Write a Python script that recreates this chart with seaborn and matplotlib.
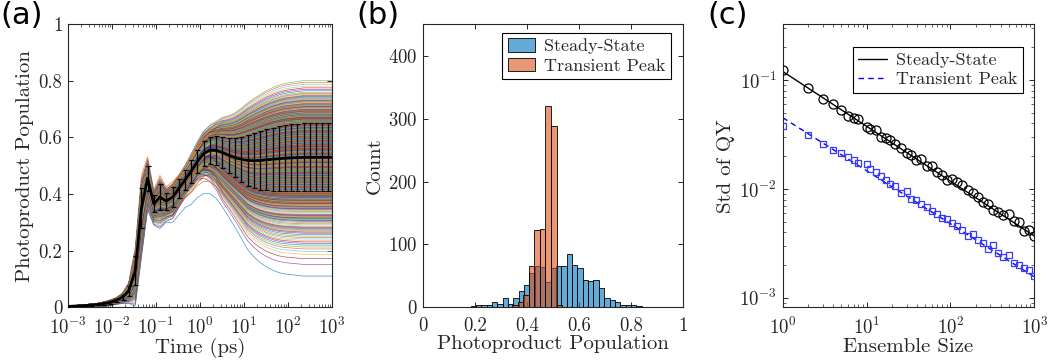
import numpy as np
import pandas as pd
import matplotlib
matplotlib.use("Agg")
import matplotlib.pyplot as plt
import seaborn as sns
from matplotlib.ticker import FixedLocator, FuncFormatter, LogLocator, NullFormatter

# ---------------- data ----------------
# (a) ensemble-averaged photoproduct population vs time (log10 of time in ps)
time_log = [-3.03, -2.89, -2.75, -2.61, -2.47, -2.32, -2.18, -2.04, -1.90, -1.76, -1.62,
            -1.47, -1.33, -1.19, -1.05, -0.91, -0.77, -0.62, -0.48, -0.34, -0.20, -0.06,
            0.08, 0.23, 0.37, 0.51, 0.65, 0.79, 0.94, 1.08, 1.22, 1.36, 1.50, 1.65,
            1.79, 1.93, 2.07, 2.21, 2.36, 2.50, 2.64, 2.78, 2.92, 3.00]
mean_pop = [0.003, 0.004, 0.005, 0.006, 0.008, 0.010, 0.013, 0.018, 0.025, 0.036, 0.058,
            0.13, 0.35, 0.456, 0.365, 0.39, 0.375, 0.39, 0.42, 0.45, 0.48, 0.515,
            0.543, 0.555, 0.554, 0.547, 0.537, 0.529, 0.523, 0.519, 0.518, 0.519, 0.521, 0.523,
            0.525, 0.527, 0.528, 0.529, 0.53, 0.53, 0.53, 0.53, 0.53, 0.53]
std_pop = [0.001, 0.001, 0.002, 0.002, 0.003, 0.003, 0.004, 0.005, 0.006, 0.009, 0.018,
           0.05, 0.07, 0.045, 0.03, 0.045, 0.03, 0.035, 0.035, 0.035, 0.04, 0.042,
           0.045, 0.047, 0.05, 0.055, 0.062, 0.07, 0.08, 0.09, 0.097, 0.103, 0.108, 0.112,
           0.115, 0.117, 0.118, 0.119, 0.12, 0.12, 0.12, 0.12, 0.12, 0.12]

# (b) histograms
ss_bin_start, ss_bin_width = 0.10, 0.02054
ss_counts = [1, 0, 1, 1, 2, 3, 4, 4, 8, 5, 15, 6, 15, 26, 35, 54, 65, 64, 41, 62, 65, 65,
             85, 68, 62, 44, 42, 43, 30, 15, 12, 8, 4, 3, 4, 2, 1]
tp_bin_start, tp_bin_width = 0.341, 0.0215
tp_counts = [4, 9, 20, 65, 123, 125, 320, 289, 4]

# (c) std of QY vs ensemble size
ens_size = [1, 2, 3, 4, 5, 6, 7, 8, 10, 11, 13, 15, 17, 19, 22, 26, 30, 34, 39, 45, 52, 60,
            69, 79, 91, 105, 121, 139, 160, 184, 212, 244, 281, 324, 373, 429, 494, 569,
            655, 754, 869, 1000]
std_ss = [0.1236, 0.0839, 0.0664, 0.0598, 0.0529, 0.047, 0.0448, 0.0438, 0.0373, 0.0355,
          0.0347, 0.0301, 0.0291, 0.0281, 0.0258, 0.0239, 0.0212, 0.0205, 0.0184, 0.0188,
          0.0163, 0.0162, 0.0144, 0.0134, 0.0121, 0.0123, 0.0115, 0.0108, 0.00975, 0.0091,
          0.00848, 0.00762, 0.00726, 0.0064, 0.00617, 0.00575, 0.00584, 0.00506, 0.00499,
          0.00412, 0.00418, 0.00368]
std_tp = [0.0378, 0.0312, 0.0258, 0.0227, 0.0216, 0.0197, 0.0184, 0.0174, 0.0169, 0.0154,
          0.0142, 0.0132, 0.0122, 0.0112, 0.0107, 0.0091, 0.0096, 0.0081, 0.0079, 0.0073,
          0.00677, 0.0063, 0.00587, 0.00547, 0.00527, 0.00488, 0.00457, 0.00418, 0.00371,
          0.00382, 0.00339, 0.00316, 0.00284, 0.00305, 0.00256, 0.00238, 0.00247, 0.00211,
          0.002, 0.00189, 0.0018, 0.00158]
fit_N = [1, 1000]
fit_ss = [0.120, 0.0037]
fit_tp = [0.0452, 0.00156]

# ---------------- style ----------------
sns.set_theme(style="ticks")
TXT = "#262626"
plt.rcParams.update({
    "font.family": ["cmr10", "DejaVu Serif"],
    "mathtext.fontset": "cm",
    "axes.formatter.use_mathtext": True,
    "axes.unicode_minus": False,
    "xtick.direction": "in", "ytick.direction": "in",
    "xtick.top": True, "ytick.right": True,
    "axes.edgecolor": TXT, "axes.linewidth": 0.8,
    "xtick.color": TXT, "ytick.color": TXT,
    "xtick.labelcolor": TXT, "ytick.labelcolor": TXT,
    "axes.labelcolor": TXT, "text.color": TXT,
    "xtick.labelsize": 13.5, "ytick.labelsize": 13.5, "axes.labelsize": 15,
    "xtick.major.size": 3.5, "ytick.major.size": 3.5,
    "xtick.minor.size": 2, "ytick.minor.size": 2,
    "xtick.major.width": 0.7, "ytick.major.width": 0.7,
    "xtick.minor.width": 0.5, "ytick.minor.width": 0.5,
    "xtick.major.pad": 7, "ytick.major.pad": 4,
})

fig = plt.figure(figsize=(10.49, 3.64), dpi=100)
bottom, height = 0.1558, 0.7775
axA = fig.add_axes([0.0648, bottom, 0.2517, height])
axB = fig.add_axes([0.4035, bottom, 0.2479, height])
axC = fig.add_axes([0.7461, bottom, 0.2399, height])

num_fmt = FuncFormatter(lambda v, p: f"{v:g}")

# ---------------- (a) ----------------
tl = np.array(time_log)
t = 10 ** tl
mu = np.array(mean_pop)
sd = np.array(std_pop)


def expand(start, width, counts):
    vals = []
    for k, c in enumerate(counts):
        for j in range(c):
            vals.append(start + width * (k + (j + 0.5) / c))
    return np.array(vals)


ss_vals = expand(ss_bin_start, ss_bin_width, ss_counts)
tp_vals = expand(tp_bin_start, tp_bin_width, tp_counts)
n = min(len(ss_vals), len(tp_vals))
ss_vals = ss_vals[:n]
perm = (np.arange(n) * 389) % n
tp_vals = tp_vals[perm]
ipk = int(np.argmax(mu[:20]))
z_late = (ss_vals - mu[-1]) / sd[-1]
z_early = (tp_vals - mu[ipk]) / sd[ipk]
w = np.clip((0.5 - tl) / 1.2, 0, 1)

mcol = ["#0072BD", "#D95319", "#EDB120", "#7E2F8E", "#77AC30", "#4DBEEE", "#A2142F"]
order = (np.arange(n) * 613) % n
for i in order:
    z = w * z_early[i] + (1 - w) * z_late[i]
    y = np.clip(mu + sd * z, 0, 1)
    axA.plot(t, y, color=mcol[(i * 3) % 7], lw=0.5, alpha=0.75, zorder=1)

axA.plot(t, mu, color="black", lw=2.0, zorder=3)
axA.errorbar(t[:-1], mu[:-1], yerr=sd[:-1], fmt="none", ecolor="black", elinewidth=0.9,
             capsize=1.8, capthick=0.9, zorder=4)
axA.set_xscale("log")
axA.set_xlim(1e-3, 1e3)
axA.set_ylim(0, 1)
axA.xaxis.set_major_locator(LogLocator(base=10, numticks=10))
axA.xaxis.set_minor_locator(LogLocator(base=10, subs=np.arange(2, 10), numticks=10))
axA.xaxis.set_minor_formatter(NullFormatter())
axA.yaxis.set_major_locator(FixedLocator([0, 0.2, 0.4, 0.6, 0.8, 1.0]))
axA.yaxis.set_major_formatter(num_fmt)
axA.set_xlabel("Time (ps)", labelpad=0)
axA.set_ylabel("Photoproduct Population", labelpad=3)

# ---------------- (b) ----------------
ss_edges = [ss_bin_start + ss_bin_width * k for k in range(len(ss_counts) + 1)]
tp_edges = [tp_bin_start + tp_bin_width * k for k in range(len(tp_counts) + 1)]
df_ss = pd.DataFrame({"x": [(ss_edges[k] + ss_edges[k + 1]) / 2 for k in range(len(ss_counts))],
                      "n": ss_counts})
df_tp = pd.DataFrame({"x": [(tp_edges[k] + tp_edges[k + 1]) / 2 for k in range(len(tp_counts))],
                      "n": tp_counts})
sns.histplot(data=df_ss, x="x", weights="n", bins=ss_edges, ax=axB, color="#0072BD",
             alpha=0.6, edgecolor="black", linewidth=0.6, label="Steady-State")
sns.histplot(data=df_tp, x="x", weights="n", bins=tp_edges, ax=axB, color="#D95319",
             alpha=0.6, edgecolor="black", linewidth=0.6, label="Transient Peak")
axB.set_xlim(0, 1)
axB.set_ylim(0, 450)
axB.xaxis.set_major_locator(FixedLocator([0, 0.2, 0.4, 0.6, 0.8, 1.0]))
axB.xaxis.set_major_formatter(num_fmt)
axB.yaxis.set_major_locator(FixedLocator([0, 100, 200, 300, 400]))
axB.set_xlabel("Photoproduct Population", labelpad=0)
axB.set_ylabel("Count", labelpad=3)
legB = axB.legend(loc="upper right", bbox_to_anchor=(0.9515, 0.969), borderaxespad=0,
                  fancybox=False, framealpha=1, edgecolor="black", fontsize=13,
                  handlelength=1.5, handleheight=0.75, borderpad=0.3, labelspacing=0.2,
                  handletextpad=0.5)
legB.get_frame().set_linewidth(0.8)

# ---------------- (c) ----------------
axC.plot(fit_N, fit_ss, color="black", lw=1.0, ls="-", label="Steady-State", zorder=2)
axC.plot(fit_N, fit_tp, color="#0000ff", lw=1.0, ls=(0, (4, 3)), label="Transient Peak",
         zorder=2)
axC.plot(ens_size, std_ss, ls="none", marker="o", ms=6.5, mfc="none", mec="black", mew=0.9,
         zorder=3)
axC.plot(ens_size, std_tp, ls="none", marker="s", ms=4.8, mfc="none", mec="#3a3aff",
         mew=0.9, zorder=3)
axC.set_xscale("log")
axC.set_yscale("log")
axC.set_xlim(1, 1000)
axC.set_ylim(8.2e-4, 0.325)
axC.xaxis.set_major_locator(LogLocator(base=10, numticks=10))
axC.xaxis.set_minor_locator(LogLocator(base=10, subs=np.arange(2, 10), numticks=10))
axC.xaxis.set_minor_formatter(NullFormatter())
axC.yaxis.set_major_locator(LogLocator(base=10, numticks=10))
axC.yaxis.set_minor_locator(LogLocator(base=10, subs=np.arange(2, 10), numticks=10))
axC.yaxis.set_minor_formatter(NullFormatter())
axC.set_xlabel("Ensemble Size", labelpad=0)
axC.set_ylabel("Std of QY", labelpad=3)
legC = axC.legend(loc="upper right", bbox_to_anchor=(0.955, 0.921), borderaxespad=0,
                  fancybox=False, framealpha=1, edgecolor="black", fontsize=13,
                  handlelength=1.6, borderpad=0.3, labelspacing=0.2, handletextpad=0.5)
legC.get_frame().set_linewidth(0.8)

# panel labels
for x0, lab in [(0.0, "(a)"), (0.340, "(b)"), (0.674, "(c)")]:
    fig.text(x0, 0.997, lab, family="DejaVu Sans", fontsize=22, va="top", ha="left",
             color="black")

fig.savefig("out.png", dpi=100)
